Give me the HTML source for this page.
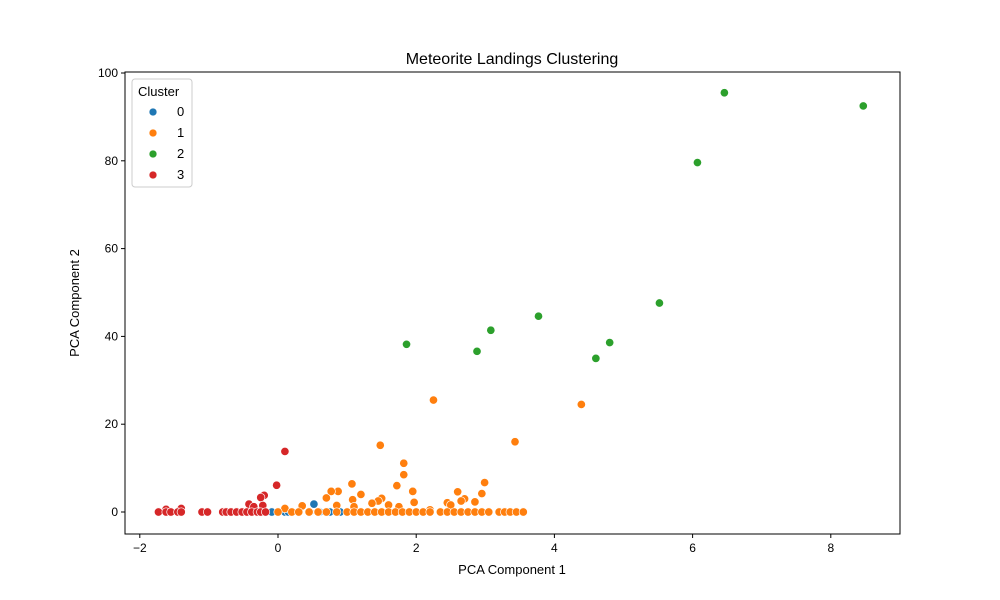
<!DOCTYPE html>
<html><head><meta charset="utf-8"><style>body{margin:0;background:#fff}svg{display:block;font-family:"Liberation Sans",sans-serif}</style></head>
<body>
<svg id="chart" width="1000" height="600">
<rect width="1000" height="600" fill="#fff"/>
<g id="plot"></g>
<g id="axes"></g>
</svg>
<script>
const clusters=["0","1","2","3"];
const colors=["#1f77b4","#ff7f0e","#2ca02c","#d62728"];
const xTicks=[-2,0,2,4,6,8];
const yTicks=[0,20,40,60,80,100];
const pts0=[[-0.09,0],[0.1,0],[0.46,0],[0.52,1.8],[0.6,0],[0.75,0],[0.9,0],[0.15,0]];
const pts1=[[2.25,25.5],[4.39,24.5],[3.43,16],[1.48,15.2],[1.82,11.1],[1.82,8.5],[1.07,6.4],[1.72,6],[2.99,6.7],[0.87,4.7],[0.77,4.7],[1.2,4],[1.95,4.7],[2.6,4.6],[2.95,4.2],[1.5,3.1],[1.45,2.5],[1.08,2.8],[0.7,3.2],[0.35,1.4],[1.36,2],[1.6,1.6],[2.45,2.1],[2.7,3],[2.85,2.3],[2.5,1.6],[0.1,0.8],[1.97,2.2],[2.65,2.5],[1.1,1.2],[0.85,1.5],[1.75,1.2],[2.2,0.5],[0,0],[0.2,0],[0.3,0],[0.45,0],[0.58,0],[0.7,0],[0.85,0],[1.0,0],[1.1,0],[1.2,0],[1.3,0],[1.4,0],[1.5,0],[1.6,0],[1.7,0],[1.8,0],[1.9,0],[2.0,0],[2.1,0],[2.2,0],[2.35,0],[2.45,0],[2.55,0],[2.65,0],[2.75,0],[2.85,0],[2.95,0],[3.05,0],[3.2,0],[3.28,0],[3.36,0],[3.45,0],[3.55,0]];
const pts2=[[1.86,38.2],[2.88,36.6],[3.08,41.4],[3.77,44.6],[4.6,35],[4.8,38.6],[5.52,47.6],[6.07,79.6],[6.46,95.5],[8.47,92.5]];
const pts3=[[0.1,13.8],[-0.02,6.1],[-0.2,3.8],[-0.25,3.3],[-0.42,1.8],[-0.35,1.2],[-0.22,1.5],[-1.4,0.8],[-1.62,0.6],[-1.73,0],[-1.62,0],[-1.55,0],[-1.45,0],[-1.4,0],[-1.1,0],[-1.02,0],[-0.8,0],[-0.75,0],[-0.68,0],[-0.6,0],[-0.52,0],[-0.45,0],[-0.38,0],[-0.3,0],[-0.25,0],[-0.18,0]];
const series=[pts0,pts1,pts2,pts3];
const L=125,R=900,T=72,B=534;
const X=v=>278+v*69.1, Y=v=>512-v*4.39;
const NS="http://www.w3.org/2000/svg";
function mk(p,t,a,txt){const e=document.createElementNS(NS,t);for(const k in a)e.setAttribute(k,a[k]);if(txt!=null)e.textContent=txt;p.appendChild(e);return e;}
const plot=document.getElementById('plot'),axes=document.getElementById('axes');
[0,1,3,2].forEach(ci=>{series[ci].forEach(p=>{const c=mk(plot,'circle',{cx:X(p[0]),cy:Y(p[1]),r:4.2,fill:colors[ci],stroke:'#fff','stroke-width':0.7});

});});
const fr=mk(axes,'rect',{x:L,y:T,width:R-L,height:B-T,fill:'none',stroke:'#000','stroke-width':1});

xTicks.forEach(t=>{mk(axes,'line',{x1:X(t),x2:X(t),y1:B,y2:B+4,stroke:'#000'});
const e=mk(axes,'text',{x:X(t),y:B+18,'text-anchor':'middle','font-size':12},t<0?'−'+(-t):t);
});
yTicks.forEach(t=>{mk(axes,'line',{x1:L-4,x2:L,y1:Y(t),y2:Y(t),stroke:'#000'});
const e=mk(axes,'text',{x:L-7,y:Y(t)+4,'text-anchor':'end','font-size':12},t);
});
let e=mk(axes,'text',{x:512,y:64,'text-anchor':'middle','font-size':16},'Meteorite Landings Clustering');

e=mk(axes,'text',{x:512,y:574,'text-anchor':'middle','font-size':13},'PCA Component 1');

e=mk(axes,'text',{x:79,y:303,'text-anchor':'middle','font-size':13,transform:'rotate(-90 79 303)'},'PCA Component 2');

const lg=mk(axes,'g',{});

mk(lg,'rect',{x:132,y:79,width:60,height:108,rx:3,fill:'#fff',stroke:'#ccc'});
mk(lg,'text',{x:138,y:96,'font-size':13},'Cluster');
clusters.forEach((c,i)=>{const g=mk(lg,'g',{});

mk(g,'circle',{cx:153,cy:112+i*21,r:4,fill:colors[i],stroke:'#fff','stroke-width':0.7});
mk(g,'text',{x:177,y:116+i*21,'font-size':13},c);});
</script>
</body></html>
